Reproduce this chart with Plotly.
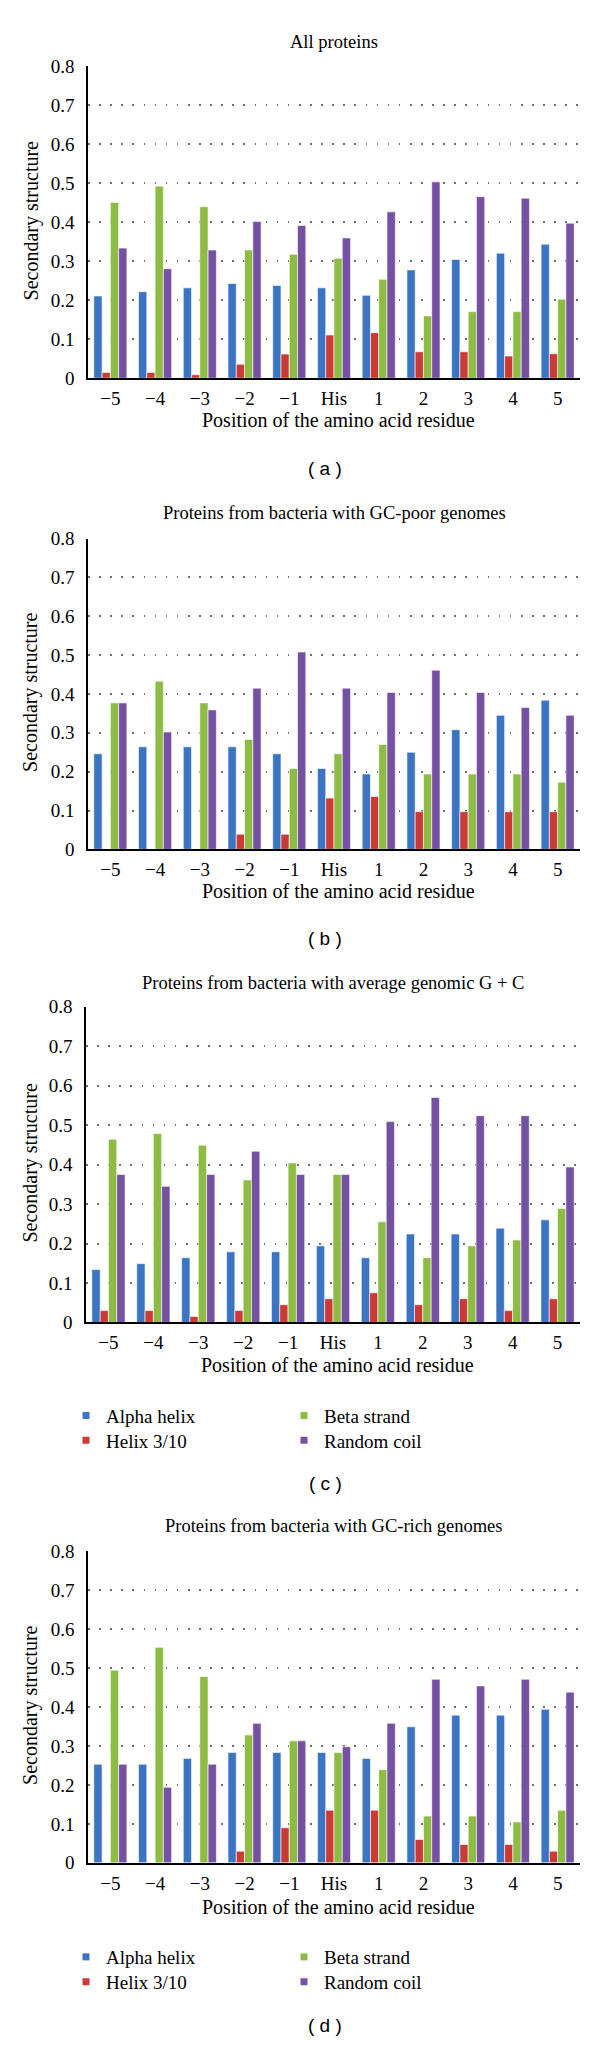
import plotly.graph_objects as go

# The page body has an 8px default margin, so the figure is 8px smaller and
# all reference pixel positions are shifted by -8.
OFF = 8
W, H = 600 - OFF, 2050 - OFF

positions = ["−5", "−4", "−3", "−2", "−1", "His", "1", "2", "3", "4", "5"]
series_names = ["Alpha helix", "Helix 3/10", "Beta strand", "Random coil"]

# (a) All proteins
a_alpha = [0.211, 0.222, 0.232, 0.243, 0.238, 0.232, 0.213, 0.278, 0.305, 0.321, 0.344]
a_helix310 = [0.015, 0.015, 0.009, 0.036, 0.062, 0.111, 0.117, 0.068, 0.068, 0.057, 0.063]
a_beta = [0.451, 0.493, 0.440, 0.329, 0.318, 0.308, 0.254, 0.160, 0.171, 0.171, 0.203]
a_coil = [0.334, 0.281, 0.329, 0.402, 0.392, 0.360, 0.427, 0.504, 0.466, 0.462, 0.398]

# (b) GC-poor genomes
b_alpha = [0.246, 0.264, 0.264, 0.264, 0.246, 0.208, 0.194, 0.250, 0.308, 0.345, 0.384]
b_helix310 = [0.0, 0.0, 0.0, 0.039, 0.039, 0.132, 0.136, 0.097, 0.097, 0.097, 0.097]
b_beta = [0.377, 0.433, 0.377, 0.283, 0.208, 0.246, 0.270, 0.194, 0.194, 0.194, 0.173]
b_coil = [0.377, 0.302, 0.359, 0.415, 0.508, 0.415, 0.404, 0.461, 0.404, 0.365, 0.345]

# (c) average genomic G + C
c_alpha = [0.134, 0.149, 0.164, 0.179, 0.179, 0.194, 0.164, 0.224, 0.224, 0.239, 0.260]
c_helix310 = [0.030, 0.030, 0.015, 0.030, 0.045, 0.060, 0.075, 0.045, 0.060, 0.030, 0.060]
c_beta = [0.464, 0.479, 0.449, 0.361, 0.404, 0.375, 0.255, 0.164, 0.194, 0.209, 0.289]
c_coil = [0.375, 0.345, 0.375, 0.434, 0.375, 0.375, 0.509, 0.570, 0.524, 0.524, 0.394]

# (d) GC-rich genomes
d_alpha = [0.253, 0.253, 0.268, 0.283, 0.283, 0.283, 0.268, 0.349, 0.379, 0.379, 0.394]
d_helix310 = [0.0, 0.0, 0.0, 0.030, 0.090, 0.135, 0.135, 0.060, 0.047, 0.047, 0.030]
d_beta = [0.494, 0.553, 0.478, 0.328, 0.313, 0.283, 0.239, 0.120, 0.120, 0.105, 0.135]
d_coil = [0.253, 0.194, 0.253, 0.358, 0.313, 0.298, 0.358, 0.471, 0.454, 0.471, 0.438]

panel_titles = [
    "All proteins",
    "Proteins from bacteria with GC-poor genomes",
    "Proteins from bacteria with average genomic G + C",
    "Proteins from bacteria with GC-rich genomes",
]
panel_labels = ["( a )", "( b )", "( c )", "( d )"]
y_ticks = [0, 0.1, 0.2, 0.3, 0.4, 0.5, 0.6, 0.7, 0.8]
y_ticktext = ["0", "0.1", "0.2", "0.3", "0.4", "0.5", "0.6", "0.7", "0.8"]

colors = ["#3a74c2", "#cc3a37", "#8dbb44", "#7451a1"]

panels = [
    [a_alpha, a_helix310, a_beta, a_coil],
    [b_alpha, b_helix310, b_beta, b_coil],
    [c_alpha, c_helix310, c_beta, c_coil],
    [d_alpha, d_helix310, d_beta, d_coil],
]

# layout geometry in reference screen pixels
plot_tops = [57, 534, 1007, 1557]
plot_bottoms = [372, 848, 1326, 1872]
plot_lefts = [88, 88, 86, 88]
plot_right = 580
title_ys = [32, 508, 983, 1532]
xtitle_ys = [414, 890, 1369, 1917]
label_ys = [463, 938, 1489, 2036]
legend_row_tops = {2: [1401, 1426], 3: [1948, 1973]}
legend_cols = [66, 284]  # left edge of each legend column
# grid slot of each series: (column, row)
legend_slots = [(0, 0), (0, 1), (1, 0), (1, 1)]

SERIF = "Liberation Serif"
SANS = "Liberation Sans"


def py(p):
    return 1 - (p - OFF) / H


def px(p):
    return (p - OFF) / W


fig = go.Figure()
layout = dict(
    width=W, height=H,
    margin=dict(l=0, r=0, t=0, b=0),
    paper_bgcolor="white", plot_bgcolor="white",
    barmode="group", bargap=0.26, bargroupgap=0.0,
    showlegend=True,
    font=dict(family=SERIF, color="black", size=18),
)
annotations = []

for i, vals in enumerate(panels):
    k = "" if i == 0 else str(i + 1)
    xa, ya = "x" + k, "y" + k
    for j, name in enumerate(series_names):
        fig.add_trace(go.Bar(
            x=positions, y=vals[j], name=name,
            marker=dict(color=colors[j], line=dict(width=0.6, color="white")),
            xaxis=xa, yaxis=ya, showlegend=False,
        ))
    layout["xaxis" + k] = dict(
        domain=[px(plot_lefts[i]), px(plot_right)],
        anchor=ya, type="category", range=[-0.5, 10.5],
        showline=True, linecolor="black", linewidth=2,
        showgrid=False, ticks="", zeroline=False, fixedrange=True,
        tickfont=dict(family=SERIF, size=19, color="black"),
        ticklabelstandoff=2,
    )
    layout["yaxis" + k] = dict(
        domain=[py(plot_bottoms[i]), py(plot_tops[i])],
        anchor=xa, range=[0, 0.8],
        tickvals=y_ticks, ticktext=y_ticktext,
        showline=True, linecolor="black", linewidth=1.5,
        showgrid=True, gridcolor="#6e6e6e", gridwidth=1.6, griddash="1.6px,9.5px",
        zeroline=False, ticks="", fixedrange=True,
        tickfont=dict(family=SERIF, size=19, color="black"),
        ticklabelstandoff=8,
    )
    cx = (plot_lefts[i] + plot_right) / 2
    annotations.append(dict(
        text=panel_titles[i], x=px(cx), y=py(title_ys[i]), xref="paper", yref="paper",
        xanchor="center", yanchor="middle", showarrow=False,
        font=dict(family=SERIF, size=18.5, color="black"),
    ))
    annotations.append(dict(
        text="Position of the amino acid residue", x=px(cx + 4), y=py(xtitle_ys[i]),
        xref="paper", yref="paper", xanchor="center", yanchor="middle", showarrow=False,
        font=dict(family=SERIF, size=20, color="black"),
    ))
    annotations.append(dict(
        text="Secondary structure", x=px(31),
        y=py((plot_tops[i] + plot_bottoms[i]) / 2 - 2),
        xref="paper", yref="paper", xanchor="center", yanchor="middle", showarrow=False,
        textangle=-90, font=dict(family=SERIF, size=20, color="black"),
    ))
    annotations.append(dict(
        text=panel_labels[i], x=px(325), y=py(label_ys[i]), xref="paper", yref="paper",
        xanchor="center", yanchor="middle", showarrow=False,
        font=dict(family=SANS, size=19, color="black"),
    ))

# legends for panels (c) and (d): one single-entry legend per grid slot
n_leg = 0
for i in (2, 3):
    k = str(i + 1)
    for j, name in enumerate(series_names):
        n_leg += 1
        lg = "legend" if n_leg == 1 else "legend%d" % n_leg
        col, row = legend_slots[j]
        fig.add_trace(go.Scatter(
            x=[None], y=[None], mode="markers", name=name,
            marker=dict(symbol="square", size=7, color=colors[j]),
            xaxis="x" + k, yaxis="y" + k, legend=lg,
            showlegend=True, hoverinfo="skip",
        ))
        layout[lg] = dict(
            orientation="v", x=px(legend_cols[col]), y=py(legend_row_tops[i][row]),
            xanchor="left", yanchor="top",
            font=dict(family=SERIF, size=19, color="black"),
            bgcolor="rgba(0,0,0,0)", borderwidth=0, itemwidth=30,
        )

layout["annotations"] = annotations
fig.update_layout(**layout)
fig.write_html("out.html")
